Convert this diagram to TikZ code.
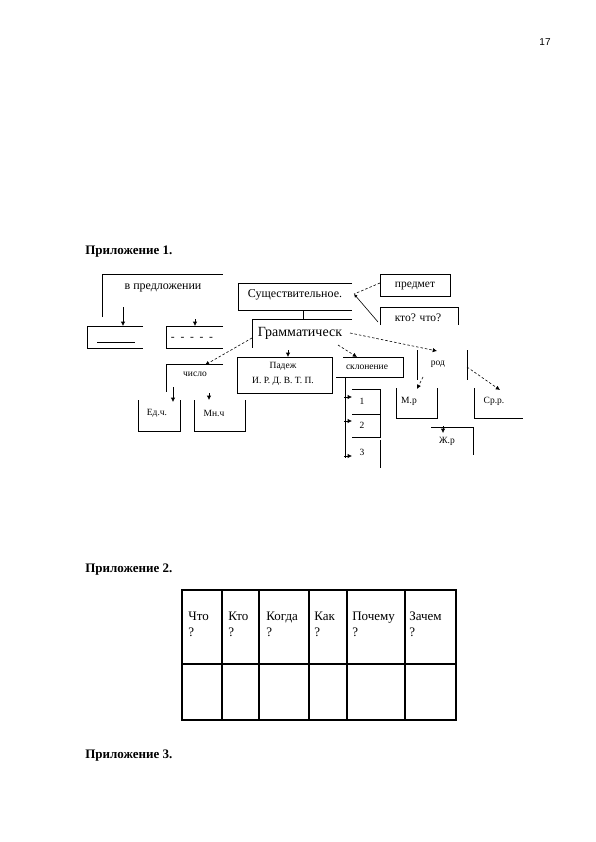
\documentclass[tikz,border=0pt]{standalone}
\usepackage{fontspec}
\setmainfont{Liberation Serif}
\newfontfamily\pagefont{Liberation Sans}
\usetikzlibrary{arrows.meta}

\begin{document}
\begin{tikzpicture}[x=1pt,y=-1pt,line width=0.6pt,
  lbl/.style={inner sep=0pt,font=\fontsize{9.5}{10}\selectfont},
  lblm/.style={inner sep=0pt,font=\fontsize{11.5}{12}\selectfont},
  arr/.style={-{Latex[length=1.5mm,width=1.5mm]}},
  darr/.style={arr,dash pattern=on 2.5pt off 2pt},
  head/.style={anchor=west,inner sep=0pt,font=\bfseries\fontsize{13}{15}\selectfont},
  cell/.style={anchor=north west,align=left,inner sep=0pt,font=\fontsize{13}{16}\selectfont}]
\useasboundingbox (0,0) rectangle (595,842);
% page number and headings
\node[font=\pagefont\fontsize{10}{12}\selectfont] (page) at (545,42) {17};
\node[head] (app1) at (85,252) {Приложение 1.};
\node[head] (app2) at (85,570) {Приложение 2.};
\node[head] (app3) at (85,756) {Приложение 3.};
% sentence part
\draw (102,317) -- (102,274) -- (223,274);
\node[inner sep=0pt,font=\fontsize{12}{13}\selectfont] (sent) at (163,288) {в предложении};
\draw (143,326) -- (87,326) -- (87,348) -- (143,348);
\draw (97,342) -- (135,342);
\draw (223,326) -- (166,326) -- (166,348) -- (223,348);
\node[lblm] (dash) at (192,339) {-\ \ -\ \ -\ \ -\ \ -};
\coordinate (sentA) at (123,307); \coordinate (boxA) at (123,326);
\coordinate (dashA) at (195,319); \coordinate (dashB) at (195,326);
\draw[arr] (sentA) -- (boxA);
\draw[arr] (dashA) -- (dashB);
% noun and grammar boxes
\draw (352,283) -- (238,283) -- (238,310) -- (352,310);
\node[inner sep=0pt,font=\fontsize{12}{13}\selectfont] (noun) at (295,295) {Существительное.};
\draw (303,310) -- (303,319);
\draw (352,319) -- (252,319) -- (252,348);
\node[inner sep=0pt,font=\fontsize{14}{15}\selectfont] (gram) at (300,333) {Грамматическ};
% object and question boxes
\draw (380,274) rectangle (450,296);
\node[lblm] (obj) at (415,286) {предмет};
\draw (380,325) -- (380,307) -- (458,307) -- (458,325);
\node[lblm] (who) at (418,318) {кто? что?};
\coordinate (nounR) at (354,294);
\coordinate (objL) at (380,283); \coordinate (whoL) at (378,322);
\draw[darr,-] (objL) -- (nounR);
\draw[{Latex[length=1.2mm,width=1.2mm]}-] (nounR) -- (whoL);
% arrows from grammar
\coordinate (gramL) at (252,338); \coordinate (numT) at (205,365);
\coordinate (gramB) at (338,345); \coordinate (declT) at (357,357);
\coordinate (gramR) at (350,333); \coordinate (genT) at (437,351);
\coordinate (caseA) at (288,350); \coordinate (caseT) at (288,357);
\draw[darr] (gramL) -- (numT);
\draw[darr] (gramB) -- (declT);
\draw[darr] (gramR) -- (genT);
\draw[arr] (caseA) -- (caseT);
% case
\draw (237,357) rectangle (332,393);
\node[lbl] (case) at (283,366) {Падеж};
\node[lbl] (cases) at (283,381) {И. Р. Д. В. Т. П.};
% number
\draw (223,364) -- (166,364) -- (166,392);
\node[lbl] (num) at (195,374) {число};
\draw (138,400) -- (138,431) -- (180,431) -- (180,400);
\node[lbl] (sing) at (157,413) {Ед.ч.};
\draw (194,400) -- (194,431) -- (245,431) -- (245,400);
\node[lbl] (plur) at (214,413) {Мн.ч};
\coordinate (numA) at (173,387); \coordinate (singT) at (173,402);
\coordinate (plurA) at (209,393); \coordinate (plurT) at (209,400);
\draw[arr] (numA) -- (singT);
\draw[arr] (plurA) -- (plurT);
% declension
\draw (343,357) -- (403,357) -- (403,377) -- (336,377);
\node[lbl] (decl) at (367,367) {склонение};
\draw (345,377) -- (345,458);
\draw (352,389) -- (380,389) -- (380,414);
\draw (352,414) -- (380,414) -- (380,437) -- (352,437);
\draw (380,440) -- (380,468);
\node[lbl] (d1) at (362,401) {1};
\node[lbl] (d2) at (362,425) {2};
\node[lbl] (d3) at (362,452) {3};
\foreach \y/\n in {397/1,421/2,456/3}{
  \coordinate (declA\n) at (344,\y); \coordinate (declB\n) at (352,\y);
  \draw[arr] (declA\n) -- (declB\n);
}
% gender
\draw (417,350) -- (417,380);
\draw (467,350) -- (467,380);
\node[lbl] (gen) at (438,364) {род};
\draw (396,388) -- (396,418) -- (437,418) -- (437,388);
\node[lbl] (masc) at (409,401) {М.р};
\draw (474,388) -- (474,418) -- (523,418);
\node[lbl] (neut) at (494,401) {Ср.р.};
\draw (431,427) -- (473,427) -- (473,455);
\node[lbl] (fem) at (447,441) {Ж.р};
\coordinate (genL) at (423,377); \coordinate (mascT) at (417,389);
\coordinate (genR) at (467,367); \coordinate (neutT) at (500,390);
\coordinate (femA) at (443,426); \coordinate (femT) at (443,433);
\draw[darr] (genL) -- (mascT);
\draw[darr] (genR) -- (neutT);
\draw[arr] (femA) -- (femT);
% table
\draw[line width=2.6pt] (182,590) rectangle (456,720);
\draw[line width=2.2pt] (182,664) -- (456,664);
\foreach \x in {222,259,309,347,405}
  \draw[line width=2.2pt] (\x,590) -- (\x,720);
\foreach \x/\w/\n in {188/Что/c1,228/Кто/c2,266/Когда/c3,314/Как/c4,352/Почему/c5,409/Зачем/c6}
  \node[cell] (\n) at (\x,612) {\w\\?};
\end{tikzpicture}
\end{document}
